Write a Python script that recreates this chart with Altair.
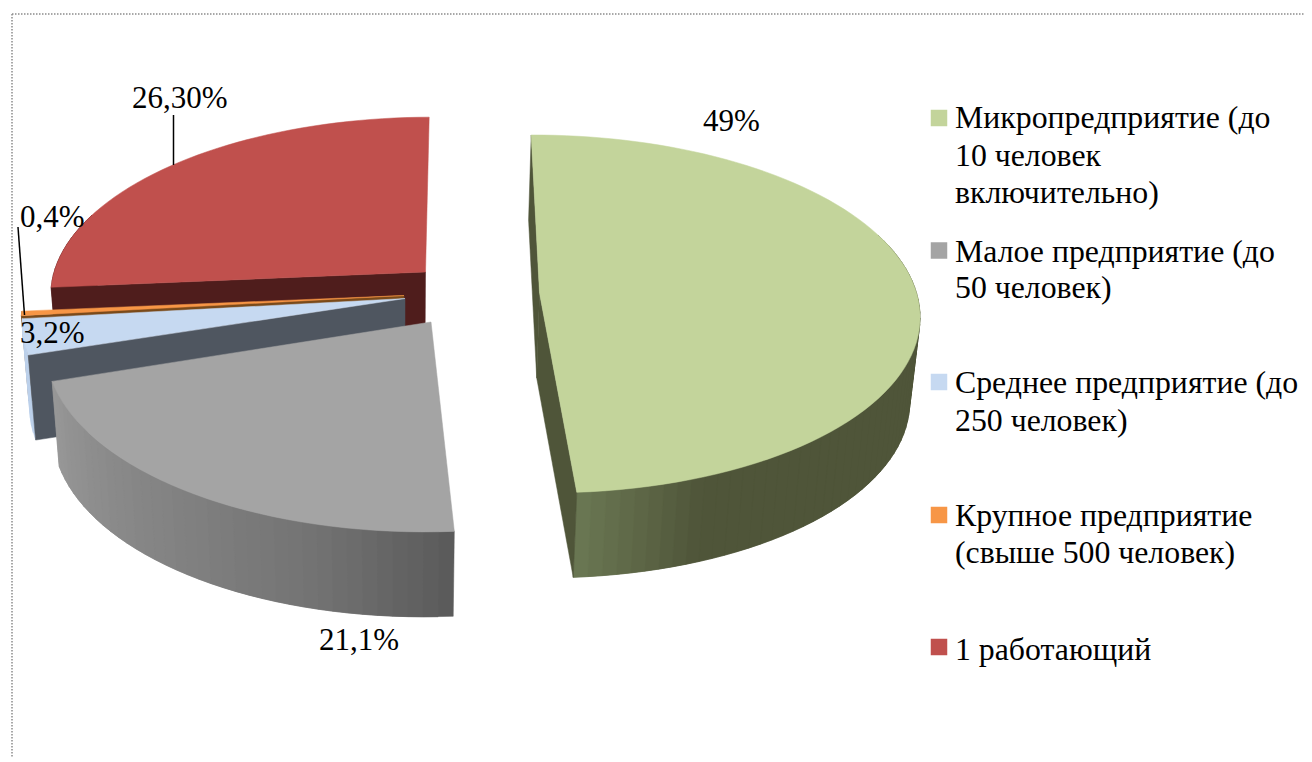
import math
import altair as alt
import pandas as pd

# ---- values ----
categories = ["Микропредприятие", "Малое предприятие", "Среднее предприятие", "Крупное предприятие", "1 работающий"]
shares = [49.0, 21.1, 3.2, 0.4, 26.3]
value_labels = ["49%", "21,1%", "3,2%", "0,4%", "26,30%"]
top_colors = ["#c3d49b", "#a4a4a4", "#c6d9f1", "#f79646", "#c0504d"]
edge_colors = ["#4f5539", "#6a6a6a", "#4f5660", "#7a4a1a", "#4f1d1c"]
legend_lines = [
    ["Микропредприятие (до", "10 человек", "включительно)"],
    ["Малое предприятие (до", "50 человек)"],
    ["Среднее предприятие (до", "250 человек)"],
    ["Крупное предприятие", "(свыше 500 человек)"],
    ["1 работающий"],
]

# ---- layout of the 3-D projection (page pixels) ----
apex = [(539.5, 293), (431, 322), (405, 298.5), (404, 295.5), (425.5, 272)]
rx_scale = [0.995, 1.008, 1.0, 1.0, 0.98]
ry_scale = [1.0, 1.05, 1.0, 1.0, 0.98]
edge_faces = [("a0", "a1"), (), ("a0",), ("a0",), ("a0",)]
RX, RY, K, VX = 379, 176.5, 0.117, 480
FIRST_ANGLE = -0.35
DEPTH = 85
label_pos = [(703, 131), (319, 650), (20, 343), (20, 227), (132, 108)]
legend_swatch_y = [118, 250.5, 382, 515, 647]
legend_baselines = [[128, 166, 203], [262, 298], [393, 431], [526, 563], [660]]
wall_stops = {
    0: ["#4f5539"] * 6 + ["#6b7853"],
    1: ["#5a5a5a", "#737373", "#808080", "#8c8c8c", "#989898"],
    2: ["#bcd0ea", "#bcd0ea"],
    3: ["#7a4a1a", "#7a4a1a"],
    4: ["#4f1d1c", "#4f1d1c"],
}


def project(idx, t):
    ax, ay = apex[idx]
    r = math.radians(t)
    u, v = math.sin(r), -math.cos(r)
    s = 1 / (1 - K * v)
    return ax + RX * rx_scale[idx] * u * s + (ax - VX) * (s - 1), ay + RY * ry_scale[idx] * v * s


def drop(p):
    return 400 + (p[0] - 400) * 0.98, p[1] + DEPTH


def mix(stops, f):
    f = max(0, min(1, f)) * (len(stops) - 1)
    i = min(int(f), len(stops) - 2)
    a, b = stops[i], stops[i + 1]
    w = f - i
    ca = [int(a[j:j + 2], 16) for j in (1, 3, 5)]
    cb = [int(b[j:j + 2], 16) for j in (1, 3, 5)]
    return "#%02x%02x%02x" % tuple(round(x + (y - x) * w) for x, y in zip(ca, cb))


def frange(a, b, n):
    return [a + (b - a) * i / n for i in range(n + 1)]


rows = []
stage = 0
pid = 0


def poly(points, color):
    global pid
    pid += 1
    for i, (x, y) in enumerate(list(points) + [points[0]]):
        rows.append(dict(stage=stage, pid=pid, i=i, x=x, y=y, c=color))


# angle ranges from the shares
spans = []
acc = 0
for v in shares:
    a0 = FIRST_ANGLE + acc / sum(shares) * 360
    acc += v
    spans.append((a0, FIRST_ANGLE + acc / sum(shares) * 360))

for idx in [4, 3, 2, 1, 0]:
    a0, a1 = spans[idx]
    A = apex[idx]
    P = project(idx, a0)
    Q = project(idx, a1)
    # outer wall strips, only the part facing the viewer
    lo, hi = max(a0, 70), min(a1, 290)
    if hi > lo:
        n = max(1, int((hi - lo) / 2))
        ts = frange(lo, hi, n)
        stops = wall_stops[idx]
        for j in range(n):
            p = project(idx, ts[j])
            q = project(idx, ts[min(j + 2, n)])
            poly([p, q, drop(q), drop(p)], mix(stops, (j + 0.5) / n))
    stage += 1
    # inner cut faces
    for name in edge_faces[idx]:
        E = P if name == "a0" else Q
        poly([A, E, drop(E), drop(A)], edge_colors[idx])
    # top face
    n = max(2, int((a1 - a0) / 2))
    arc = [project(idx, t) for t in frange(a0, a1, n)]
    stage += 1
    poly([A] + arc, top_colors[idx])
    stage += 1

df = pd.DataFrame(rows)

xs = alt.X("x:Q", scale=alt.Scale(domain=[8, 1304]), axis=None)
ys = alt.Y("y:Q", scale=alt.Scale(domain=[758, 8]), axis=None)

layers = []
for st in sorted(df.stage.unique()):
    layers.append(
        alt.Chart(df[df.stage == st])
        .mark_line(strokeWidth=0.5, interpolate="linear", clip=False)
        .encode(
            x=xs,
            y=ys,
            detail="pid:N",
            order="i:Q",
            fill=alt.Fill("c:N", scale=None),
            stroke=alt.Stroke("c:N", scale=None),
        )
    )

# dotted frame
frame = pd.DataFrame([
    dict(x=12, y=14, x2=1304, y2=14),
    dict(x=12, y=14, x2=12, y2=758),
])
layers.append(
    alt.Chart(frame)
    .mark_rule(color="#8c8c8c", strokeWidth=1.5, strokeDash=[1.5, 1.5])
    .encode(x=xs, y=ys, x2="x2:Q", y2="y2:Q")
)

# leader lines
leaders = pd.DataFrame([
    dict(x=173.5, y=115, x2=173.5, y2=165),
    dict(x=18, y=227, x2=24.5, y2=315),
])
layers.append(
    alt.Chart(leaders)
    .mark_rule(color="#000000", strokeWidth=1.5)
    .encode(x=xs, y=ys, x2="x2:Q", y2="y2:Q")
)

# value labels
vals = pd.DataFrame(
    [dict(x=p[0], y=p[1], t=t) for p, t in zip(label_pos, value_labels)]
)
layers.append(
    alt.Chart(vals)
    .mark_text(font="Liberation Serif", fontSize=31, align="left", baseline="alphabetic", color="#000000")
    .encode(x=xs, y=ys, text="t:N")
)

# legend
sw = pd.DataFrame([dict(x=939, y=y, c=c, k=k) for y, c, k in zip(legend_swatch_y, top_colors, categories)])
layers.append(
    alt.Chart(sw)
    .mark_square(size=272, opacity=1, filled=True)
    .encode(x=xs, y=ys, fill=alt.Fill("c:N", scale=None), tooltip="k:N")
)
lg = pd.DataFrame(
    [dict(x=955, y=b, t=t)
     for lines, bases in zip(legend_lines, legend_baselines)
     for t, b in zip(lines, bases)]
)
layers.append(
    alt.Chart(lg)
    .mark_text(font="Liberation Serif", fontSize=31.8, align="left", baseline="alphabetic", color="#000000")
    .encode(x=xs, y=ys, text="t:N")
)

chart = (
    alt.layer(*layers)
    .properties(width=1296, height=750, padding=0, background="#ffffff", autosize=alt.AutoSizeParams(type="none"))
    .configure_view(stroke=None)
)
chart.save("out.html", embed_options={"renderer": "svg", "actions": False})
